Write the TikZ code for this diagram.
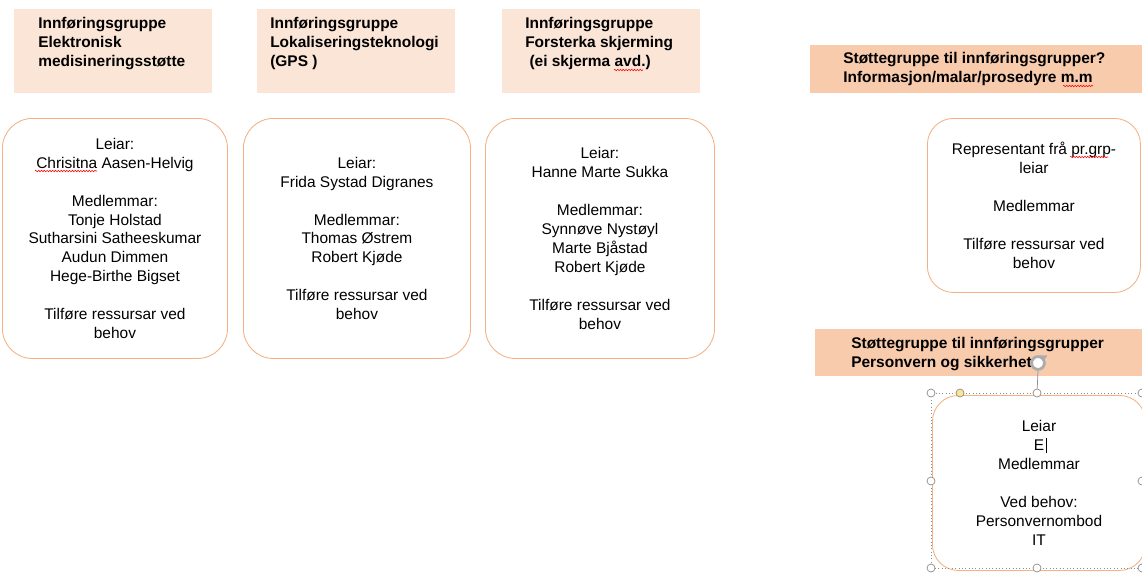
\documentclass[tikz,border=0pt]{standalone}
\usepackage{fontspec}
\setmainfont{Liberation Sans}
\usetikzlibrary{positioning,calc,decorations.pathmorphing,arrows.meta,shapes.geometric}
\newcommand\boxfont{\fontsize{11}{13.5}\selectfont}

\begin{document}
\begin{tikzpicture}[x=0.025cm, y=-0.025cm]
\definecolor{head light}{RGB}{251,229,214}
\definecolor{head dark}{RGB}{248,203,173}
\definecolor{box edge}{RGB}{244,177,131}
\definecolor{handle grey}{RGB}{140,140,140}
\tikzset{
     every node/.style={font=\boxfont},
     headbox/.style={anchor=north west, inner sep=0pt, minimum width=4.95cm, minimum height=2.1cm},
     headtext/.style={anchor=north west, inner sep=0pt, align=left, font=\boxfont\bfseries},
     groupbox/.style={anchor=north west, draw=box edge, line width=0.6pt, rounded corners=0.75cm, fill=white, inner sep=0pt, align=center},
     handle/.style={circle, draw=handle grey, fill=white, line width=0.5pt, minimum size=0.2cm, inner sep=0pt},
     typo/.style={red, line width=0.4pt, decorate, decoration={snake, amplitude=0.5pt, segment length=2pt}}}

\useasboundingbox (0,0) rectangle (1142,572);

% The header boxes
\node (elmhead)  [headbox, fill=head light] at (14,9) {};
\node (gpshead)  [headbox, fill=head light] at (257,9) {};
\node (skjhead)  [headbox, fill=head light] at (502,9) {};
\node (infohead) [headbox, fill=head dark, minimum width=8.4cm, minimum height=1.2cm] at (810,45) {};
\node (pvhead)   [headbox, fill=head dark, minimum width=8.3cm, minimum height=1.175cm] at (815,329) {};

\node (elmtitle)  [headtext] at ($(elmhead.north west)+(24,8)$) {Innføringsgruppe\\Elektronisk\\medisineringsstøtte};
\node (gpstitle)  [headtext] at ($(gpshead.north west)+(13,8)$) {Innføringsgruppe\\Lokaliseringsteknologi\\(GPS )};
\node (skjtitle)  [headtext] at ($(skjhead.north west)+(23,8)$) {Innføringsgruppe\\Forsterka skjerming\\\hspace*{3pt}(ei skjerma avd.)};
\node (infotitle) [headtext] at ($(infohead.north west)+(33,7)$) {Støttegruppe til innføringsgrupper?\\Informasjon/malar/prosedyre m.m};
\node (pvtitle)   [headtext] at ($(pvhead.north west)+(36,8)$) {Støttegruppe til innføringsgrupper\\Personvern og sikkerhet};

% The group boxes
\node (elmgrp) [groupbox, minimum width=5.625cm, minimum height=6cm] at (2,118)
  {Leiar:\\Chrisitna Aasen-Helvig\\[13.5pt]Medlemmar:\\Tonje Holstad\\Sutharsini Satheeskumar\\Audun Dimmen\\Hege-Birthe Bigset\\[13.5pt]Tilføre ressursar ved\\behov};
\node (gpsgrp) [groupbox, minimum width=5.675cm, minimum height=6cm] at (243,118)
  {Leiar:\\Frida Systad Digranes\\[13.5pt]Medlemmar:\\Thomas Østrem\\Robert Kjøde\\[13.5pt]Tilføre ressursar ved\\behov};
\node (skjgrp) [groupbox, minimum width=5.725cm, minimum height=6cm] at (485,118)
  {Leiar:\\Hanne Marte Sukka\\[13.5pt]Medlemmar:\\Synnøve Nystøyl\\Marte Bjåstad\\Robert Kjøde\\[13.5pt]Tilføre ressursar ved\\behov};
\node (infogrp) [groupbox, rounded corners=0.65cm, minimum width=5.325cm, minimum height=4.35cm] at (927,118)
  {Representant frå pr.grp-\\leiar\\[13.5pt]Medlemmar\\[13.5pt]Tilføre ressursar ved\\behov};
\node (pvgrp) [groupbox, rounded corners=0.65cm, minimum width=5.325cm, minimum height=4.375cm] at (932,395)
  {Leiar\\E\rlap{\hspace{1pt}\rule[-2pt]{0.5pt}{11pt}}\\Medlemmar\\[13.5pt]Ved behov:\\Personvernombod\\IT};

% The spelling marks
\draw [typo] (35,171) -- (97,171);
\draw [typo] (614,70) -- (643,70);
\draw [typo] (1063,86) -- (1093,86);
\draw [typo] (1070,157) -- (1108,157);

% The selection frame and handles
\draw [handle grey, dotted, line width=0.4pt] (931,393) rectangle (1145,568);
\foreach \x/\y [count=\i] in {931/393, 1037/393, 1142/393, 931/481, 1142/481, 931/568, 1037/568, 1142/568}
  \node (hd\i) [handle] at (\x,\y) {};
\node (adjust) [handle, fill=yellow!55!orange!40] at (960,393) {};
\node (rotate) [circle, draw=gray!65, fill=white, line width=2pt, minimum size=0.32cm, inner sep=0pt] at (1038,363) {};
\node (rotatetip) [fill=gray!65, isosceles triangle, isosceles triangle apex angle=70, minimum size=0.14cm, inner sep=0pt, shape border rotate=-90] at (rotate.north east) {};
\draw [handle grey, line width=0.5pt] (rotate.south) -- (hd2);
\end{tikzpicture}
\end{document}
